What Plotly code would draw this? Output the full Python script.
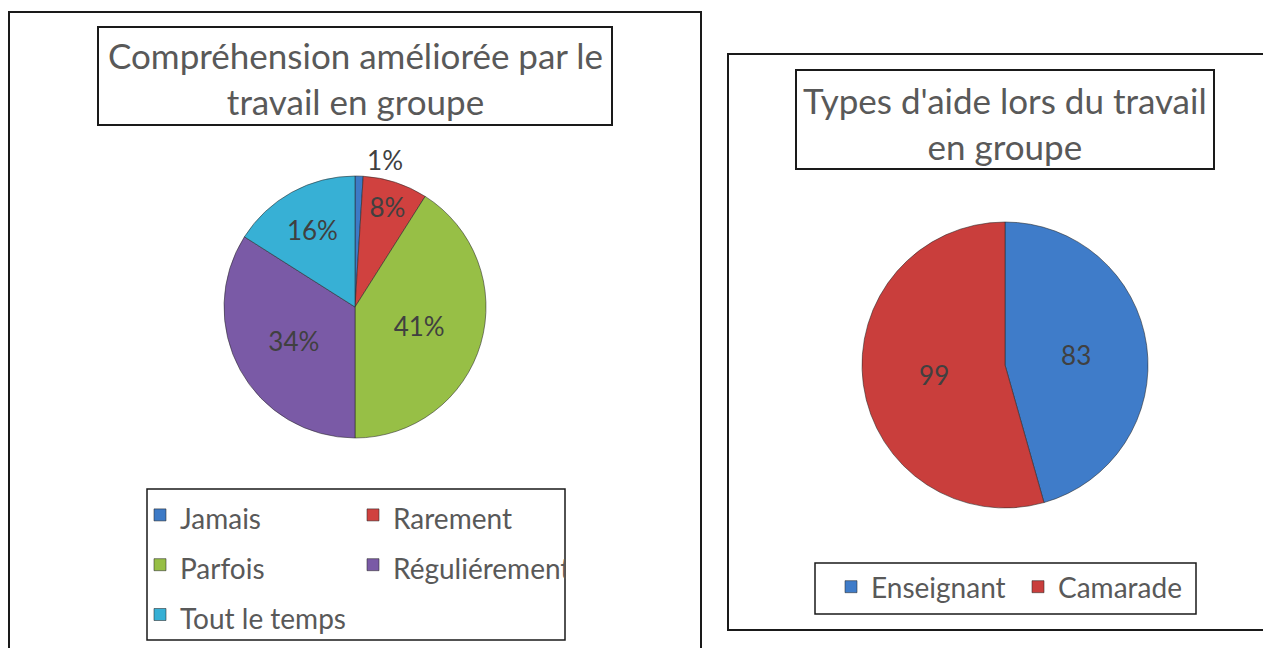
import plotly.graph_objects as go

# ---------------- data ----------------
chart1_title_lines = ["Compréhension améliorée par le", "travail en groupe"]
chart1_labels = ["Jamais", "Rarement", "Parfois", "Réguliérement", "Tout le temps"]
chart1_values = [1, 8, 41, 34, 16]

chart2_title_lines = ["Types d'aide lors du travail", "en groupe"]
chart2_labels = ["Enseignant", "Camarade"]
chart2_values = [83, 99]

# ---------------- styling ----------------
chart1_colors = ["#3D7AC6", "#D0413F", "#97BF46", "#7A5AA6", "#37B0D5"]
chart2_colors = ["#3F7CC9", "#C93E3C"]
FONT = "Lato"
TITLE_COLOR = "#595959"
LABEL_COLOR = "#404040"
LEGEND_TEXT_SIZE = 28

# page body has an 8px margin: figure is offset by 8px in the window
OFF = 8
W, H = 1263, 640
ML = 180                      # left margin (plot area starts here)
PW = W - ML


def fx(px):
    return (px - OFF - ML) / PW


def fy(py):
    return 1 - (py - OFF) / H


def legend_text(label):
    return f"<span style='font-size:{LEGEND_TEXT_SIZE}px'>{label}</span>"


fig = go.Figure()

fig.add_trace(go.Pie(
    labels=[legend_text(l) for l in chart1_labels], values=chart1_values,
    sort=False, direction="clockwise", rotation=0,
    marker=dict(colors=chart1_colors, line=dict(color="rgba(40,40,40,0.55)", width=1)),
    texttemplate="%{percent:.0%}",
    textposition=["outside", "inside", "inside", "inside", "inside"],
    insidetextorientation="horizontal",
    textfont=dict(family=FONT, size=26, color=LABEL_COLOR),
    domain=dict(x=[fx(224), fx(486)], y=[fy(438), fy(176)]),
    legend="legend",
    hoverinfo="percent",
))

fig.add_trace(go.Pie(
    labels=chart2_labels, values=chart2_values,
    sort=False, direction="clockwise", rotation=0,
    marker=dict(colors=chart2_colors, line=dict(color="rgba(40,40,40,0.55)", width=1)),
    texttemplate="%{value}",
    textposition="inside",
    insidetextorientation="horizontal",
    textfont=dict(family=FONT, size=26, color=LABEL_COLOR),
    domain=dict(x=[fx(862), fx(1148)], y=[fy(508), fy(222)]),
    legend="legend2",
    hoverinfo="label+value",
))

line_dark = dict(color="#1a1a1a", width=2)
shapes = [
    # left panel
    dict(type="rect", xref="paper", yref="paper", x0=fx(9), x1=fx(701), y0=fy(670), y1=fy(12), line=line_dark),
    dict(type="rect", xref="paper", yref="paper", x0=fx(98), x1=fx(612), y0=fy(125), y1=fy(27), line=line_dark),
    dict(type="rect", xref="paper", yref="paper", x0=fx(147), x1=fx(565), y0=fy(640), y1=fy(489),
         line=dict(color="#1a1a1a", width=1.5)),
    # right panel
    dict(type="rect", xref="paper", yref="paper", x0=fx(728), x1=fx(1290), y0=fy(630), y1=fy(54), line=line_dark),
    dict(type="rect", xref="paper", yref="paper", x0=fx(796), x1=fx(1214), y0=fy(169), y1=fy(70), line=line_dark),
    dict(type="rect", xref="paper", yref="paper", x0=fx(815), x1=fx(1196), y0=fy(614), y1=fy(563),
         line=dict(color="#1a1a1a", width=1.5)),
]

annotations = [
    dict(text="<br>".join(chart1_title_lines), xref="paper", yref="paper",
         x=fx(355), y=fy(78), xanchor="center", yanchor="middle", showarrow=False,
         font=dict(family=FONT, size=35, color=TITLE_COLOR)),
    dict(text="<br>".join(chart2_title_lines), xref="paper", yref="paper",
         x=fx(1005), y=fy(123), xanchor="center", yanchor="middle", showarrow=False,
         font=dict(family=FONT, size=35, color=TITLE_COLOR)),
]

fig.update_layout(
    width=W, height=H,
    margin=dict(l=ML, r=0, t=0, b=0, autoexpand=False),
    paper_bgcolor="white", plot_bgcolor="white",
    shapes=shapes, annotations=annotations,
    uniformtext=dict(minsize=26, mode="show"),
    legend=dict(
        orientation="h", x=fx(140), y=fy(485), xanchor="left", yanchor="top",
        entrywidth=168, entrywidthmode="pixels",
        font=dict(family=FONT, size=36, color=TITLE_COLOR),
        bgcolor="rgba(0,0,0,0)", borderwidth=0,
    ),
    legend2=dict(
        orientation="h", x=fx(831), y=fy(587), xanchor="left", yanchor="middle",
        entrywidth=142, entrywidthmode="pixels",
        font=dict(family=FONT, size=LEGEND_TEXT_SIZE, color=TITLE_COLOR),
        bgcolor="rgba(0,0,0,0)", borderwidth=0,
    ),
)

fig.write_html("out.html")
